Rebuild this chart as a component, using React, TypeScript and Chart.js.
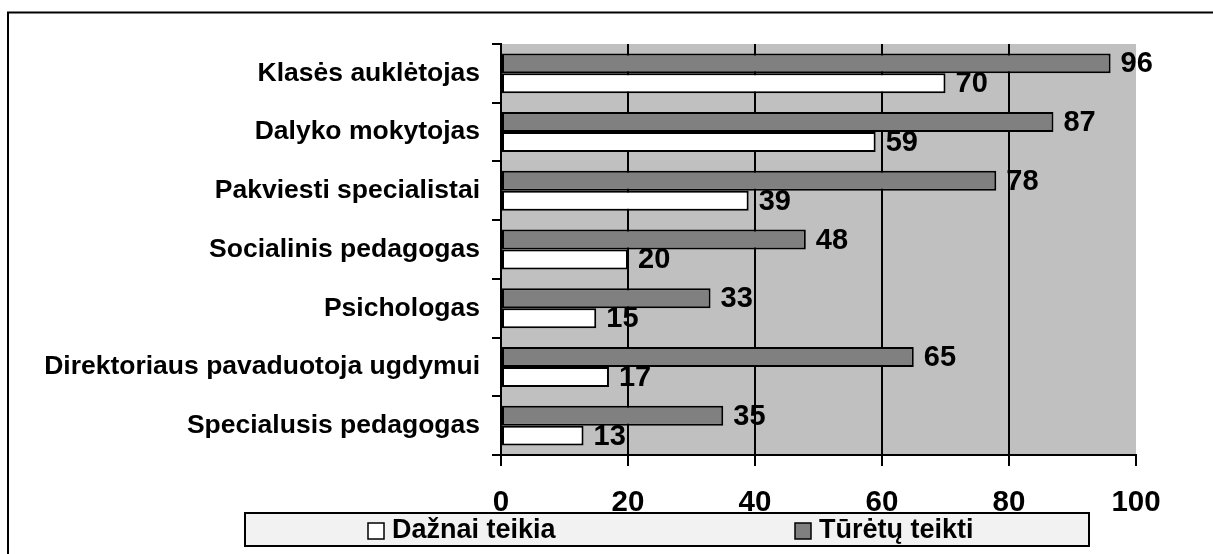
import React, { useEffect, useRef } from "react";
import { Chart, registerables } from "chart.js";

Chart.register(...registerables);

const categories: string[] = [
  "Klasės auklėtojas",
  "Dalyko mokytojas",
  "Pakviesti specialistai",
  "Socialinis pedagogas",
  "Psichologas",
  "Direktoriaus pavaduotoja ugdymui",
  "Specialusis pedagogas",
];

const seriesNames: string[] = ["Dažnai teikia", "Tūrėtų teikti"];
const oftenValues: number[] = [70, 59, 39, 20, 15, 17, 13];
const shouldValues: number[] = [96, 87, 78, 48, 33, 65, 35];
const xTicks: number[] = [0, 20, 40, 60, 80, 100];

const FONT = "'Liberation Sans', Arial, sans-serif";

const plotBg = {
  id: "plotBg",
  beforeDraw(chart: any) {
    const { ctx, chartArea } = chart;
    ctx.save();
    ctx.fillStyle = "#ffffff";
    ctx.fillRect(0, 0, chart.width, chart.height);
    ctx.fillStyle = "#C0C0C0";
    ctx.fillRect(chartArea.left, chartArea.top, chartArea.right - chartArea.left, chartArea.bottom - chartArea.top);
    ctx.restore();
  },
};

const valueLabels = {
  id: "valueLabels",
  afterDatasetsDraw(chart: any) {
    const { ctx } = chart;
    ctx.save();
    ctx.font = `bold 29px ${FONT}`;
    ctx.fillStyle = "#000";
    ctx.textAlign = "left";
    ctx.textBaseline = "middle";
    chart.data.datasets.forEach((ds: any, i: number) => {
      const meta = chart.getDatasetMeta(i);
      meta.data.forEach((bar: any, j: number) => {
        ctx.fillText(String(ds.data[j]), bar.x + 10, bar.y + 1);
      });
    });
    ctx.restore();
  },
};

const frameAndLegend = {
  id: "frameAndLegend",
  afterDraw(chart: any) {
    const { ctx } = chart;
    ctx.save();
    // outer frame
    ctx.strokeStyle = "#000";
    ctx.lineWidth = 2;
    ctx.strokeRect(8, 12.5, 1400, 700);
    // legend box
    const boxL = 245;
    const boxR = 1089;
    ctx.fillStyle = "#F2F2F2";
    ctx.fillRect(boxL, 513, boxR - boxL, 33);
    ctx.strokeRect(boxL, 513, boxR - boxL, 33);
    // legend items (white series first, as in the reference)
    const order = [1, 0];
    const itemX = [368, 795];
    ctx.font = `bold 27px ${FONT}`;
    ctx.textBaseline = "middle";
    ctx.textAlign = "left";
    order.forEach((dsIndex, k) => {
      const ds = chart.data.datasets[dsIndex];
      const x = itemX[k];
      ctx.fillStyle = ds.backgroundColor;
      ctx.fillRect(x, 523, 16, 16);
      ctx.lineWidth = 1.5;
      ctx.strokeStyle = "#000";
      ctx.strokeRect(x, 523, 16, 16);
      ctx.fillStyle = "#000";
      ctx.fillText(ds.label, x + 24, 531);
    });
    ctx.restore();
  },
};

export default function App() {
  const canvasRef = useRef<HTMLCanvasElement | null>(null);

  useEffect(() => {
    if (!canvasRef.current) return;
    const chart = new Chart(canvasRef.current, {
      type: "bar",
      data: {
        labels: categories,
        datasets: [
          {
            label: seriesNames[1],
            data: shouldValues,
            backgroundColor: "#808080",
            borderColor: "#000000",
            borderWidth: 2,
            borderSkipped: false,
            categoryPercentage: 0.68,
            barPercentage: 1,
          },
          {
            label: seriesNames[0],
            data: oftenValues,
            backgroundColor: "#FFFFFF",
            borderColor: "#000000",
            borderWidth: 2,
            borderSkipped: false,
            categoryPercentage: 0.68,
            barPercentage: 1,
          },
        ],
      },
      options: {
        indexAxis: "y",
        responsive: false,
        animation: false,
        layout: { padding: { top: 44, right: 77, bottom: 29, left: 0 } },
        plugins: {
          legend: { display: false },
          tooltip: { enabled: false },
          title: { display: false },
        },
        scales: {
          x: {
            type: "linear",
            min: 0,
            max: 100,
            afterBuildTicks(scale: any) {
              scale.ticks = xTicks.map((v) => ({ value: v }));
            },
            afterFit(scale: any) {
              scale.height = 70;
            },
            ticks: {
              color: "#000",
              font: { family: FONT, size: 29.5, weight: "bold" },
              padding: 19,
              maxRotation: 0,
            },
            grid: {
              color: (c: any) =>
                c.tick && (c.tick.value === 0 || c.tick.value === 100) ? "rgba(0,0,0,0)" : "#000",
              lineWidth: 2,
              tickColor: "#000",
              tickLength: 11,
              drawOnChartArea: true,
            },
            border: { display: true, color: "#000", width: 2 },
          },
          y: {
            type: "category",
            afterFit(scale: any) {
              scale.width = 501;
            },
            ticks: {
              color: "#000",
              font: { family: FONT, size: 26.5, weight: "bold" },
              padding: 12,
            },
            grid: {
              offset: true,
              drawOnChartArea: false,
              color: "#000",
              tickColor: "#000",
              tickLength: 9,
              lineWidth: 2,
            },
            border: { display: true, color: "#000", width: 2 },
          },
        },
      },
      plugins: [plotBg, valueLabels, frameAndLegend],
    });
    return () => chart.destroy();
  }, []);

  return (
    <div style={{ position: "fixed", left: 0, top: 0, width: 1213, height: 554, overflow: "hidden", background: "#fff" }}>
      <canvas ref={canvasRef} width={1213} height={554} style={{ display: "block" }} />
    </div>
  );
}
